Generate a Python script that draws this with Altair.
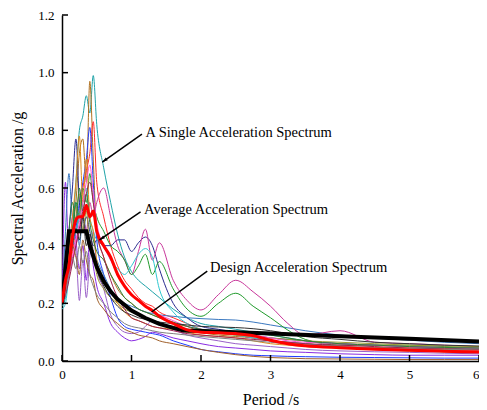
import altair as alt
import pandas as pd

periods = [0, 0.05, 0.1, 0.15, 0.2, 0.25, 0.3, 0.35, 0.4, 0.45, 0.5, 0.6, 0.7, 0.8, 0.9, 1.0,
           1.1, 1.2, 1.3, 1.4, 1.6, 1.8, 2.0, 2.25, 2.5, 2.75, 3.0, 3.25, 3.5, 4.0, 4.5, 5.0, 5.5, 6.0]

teal = [0.19,0.22,0.30,0.45,0.62,0.80,0.85,0.92,0.86,0.99,0.82,0.67,0.55,0.44,0.36,0.31,0.28,0.26,0.24,0.22,0.18,0.15,0.13,0.12,0.11,0.10,0.09,0.08,0.07,0.06,0.055,0.05,0.045,0.04]
brown = [0.20,0.25,0.35,0.45,0.55,0.72,0.77,0.62,0.97,0.70,0.45,0.36,0.30,0.25,0.22,0.20,0.18,0.17,0.16,0.15,0.13,0.12,0.10,0.09,0.085,0.08,0.07,0.065,0.06,0.05,0.047,0.045,0.042,0.04]
red_single = [0.20,0.24,0.30,0.38,0.45,0.50,0.60,0.66,0.72,0.83,0.62,0.50,0.40,0.33,0.28,0.25,0.22,0.20,0.19,0.17,0.15,0.13,0.11,0.10,0.09,0.08,0.07,0.065,0.06,0.05,0.045,0.04,0.037,0.035]
blue = [0.20,0.25,0.32,0.40,0.46,0.55,0.62,0.70,0.81,0.62,0.42,0.30,0.22,0.15,0.12,0.11,0.105,0.10,0.095,0.09,0.07,0.055,0.04,0.032,0.025,0.02,0.018,0.016,0.015,0.013,0.012,0.011,0.01,0.01]
violet = [0.20,0.62,0.35,0.50,0.42,0.32,0.40,0.28,0.42,0.33,0.26,0.20,0.13,0.10,0.08,0.07,0.075,0.085,0.10,0.095,0.08,0.07,0.06,0.05,0.045,0.04,0.035,0.032,0.03,0.025,0.022,0.02,0.02,0.02]
purple = [0.20,0.30,0.36,0.42,0.38,0.21,0.35,0.22,0.36,0.45,0.32,0.25,0.16,0.12,0.10,0.095,0.10,0.12,0.14,0.13,0.11,0.09,0.08,0.07,0.06,0.055,0.05,0.045,0.04,0.035,0.032,0.03,0.027,0.025]
navy = [0.20,0.30,0.45,0.60,0.77,0.55,0.45,0.50,0.45,0.40,0.42,0.40,0.40,0.42,0.42,0.38,0.41,0.43,0.40,0.32,0.20,0.15,0.12,0.11,0.10,0.09,0.08,0.075,0.07,0.06,0.055,0.05,0.047,0.045]
steel = [0.20,0.45,0.65,0.50,0.55,0.40,0.50,0.45,0.40,0.38,0.35,0.30,0.25,0.22,0.20,0.19,0.18,0.17,0.165,0.16,0.155,0.15,0.147,0.144,0.142,0.135,0.125,0.115,0.105,0.09,0.08,0.072,0.065,0.06]
magenta = [0.20,0.25,0.30,0.35,0.40,0.45,0.50,0.45,0.55,0.50,0.55,0.60,0.50,0.40,0.35,0.30,0.38,0.457,0.35,0.41,0.28,0.21,0.177,0.23,0.28,0.24,0.19,0.13,0.09,0.105,0.065,0.06,0.055,0.05]
green = [0.20,0.28,0.40,0.45,0.55,0.50,0.60,0.55,0.65,0.55,0.50,0.45,0.40,0.38,0.35,0.30,0.33,0.37,0.30,0.345,0.25,0.18,0.155,0.20,0.235,0.19,0.15,0.107,0.075,0.055,0.055,0.055,0.05,0.045]
cyan = [0.18,0.20,0.30,0.40,0.45,0.50,0.55,0.60,0.50,0.45,0.42,0.40,0.35,0.32,0.30,0.33,0.37,0.39,0.36,0.25,0.17,0.13,0.11,0.10,0.09,0.08,0.07,0.065,0.06,0.05,0.04,0.035,0.032,0.03]
olive = [0.20,0.26,0.35,0.42,0.50,0.58,0.45,0.52,0.40,0.38,0.30,0.25,0.22,0.20,0.18,0.17,0.16,0.15,0.14,0.13,0.12,0.11,0.10,0.095,0.09,0.085,0.08,0.075,0.07,0.065,0.06,0.055,0.052,0.05]
orange = [0.20,0.27,0.38,0.50,0.62,0.78,0.55,0.70,0.50,0.45,0.35,0.28,0.24,0.20,0.17,0.15,0.14,0.13,0.12,0.115,0.11,0.10,0.09,0.085,0.08,0.07,0.06,0.055,0.05,0.045,0.04,0.035,0.032,0.03]
pink = [0.20,0.24,0.30,0.36,0.42,0.48,0.55,0.62,0.68,0.58,0.48,0.40,0.35,0.30,0.26,0.23,0.21,0.19,0.17,0.16,0.14,0.12,0.11,0.10,0.095,0.09,0.08,0.07,0.065,0.06,0.055,0.05,0.047,0.045]
darkgreen = [0.20,0.30,0.45,0.55,0.48,0.60,0.52,0.58,0.48,0.42,0.38,0.35,0.30,0.26,0.22,0.20,0.18,0.17,0.16,0.15,0.135,0.12,0.11,0.105,0.10,0.095,0.09,0.08,0.07,0.06,0.055,0.05,0.047,0.045]
dark = [0.20,0.26,0.34,0.40,0.46,0.42,0.50,0.40,0.44,0.38,0.32,0.26,0.22,0.19,0.17,0.16,0.15,0.145,0.14,0.135,0.13,0.125,0.12,0.118,0.116,0.112,0.105,0.095,0.085,0.075,0.065,0.06,0.055,0.052]
wine = [0.20,0.23,0.28,0.34,0.40,0.46,0.52,0.58,0.62,0.55,0.45,0.36,0.28,0.22,0.18,0.15,0.14,0.13,0.12,0.115,0.105,0.095,0.09,0.085,0.08,0.075,0.07,0.065,0.06,0.055,0.05,0.045,0.042,0.04]
brown2 = [0.20,0.25,0.33,0.40,0.36,0.30,0.42,0.35,0.30,0.28,0.22,0.18,0.15,0.13,0.11,0.10,0.09,0.085,0.08,0.07,0.06,0.05,0.04,0.03,0.022,0.016,0.012,0.01,0.008,0.007,0.006,0.005,0.005,0.005]
gray = [0.20,0.24,0.30,0.36,0.32,0.40,0.34,0.38,0.30,0.26,0.23,0.20,0.17,0.15,0.13,0.12,0.115,0.11,0.105,0.10,0.095,0.09,0.085,0.08,0.075,0.07,0.065,0.06,0.055,0.05,0.045,0.042,0.04,0.038]

average = [0.20,0.28,0.33,0.43,0.49,0.50,0.50,0.54,0.50,0.52,0.45,0.40,0.36,0.30,0.26,0.23,0.21,0.19,0.175,0.155,0.13,0.108,0.10,0.098,0.095,0.088,0.072,0.06,0.053,0.046,0.041,0.037,0.034,0.031]

design_periods = [0, 0.1, 0.35, 0.4, 0.5, 0.6, 0.7, 0.8, 1.0, 1.2, 1.4, 1.6, 1.75, 2.0, 3.0, 4.0, 5.0, 6.0]
design = [0.2, 0.45, 0.45, 0.40, 0.326, 0.277, 0.241, 0.214, 0.175, 0.149, 0.129, 0.115, 0.106, 0.104, 0.095, 0.086, 0.077, 0.068]

singles = {
    "teal": (teal, "#1fa3a8"), "brown": (brown, "#b0701e"), "red": (red_single, "#ff2a2a"),
    "blue": (blue, "#1f3cff"), "violet": (violet, "#8a2be2"), "purple": (purple, "#9a60c8"),
    "navy": (navy, "#2a2a90"), "steel": (steel, "#3a78c0"), "magenta": (magenta, "#c8369a"),
    "green": (green, "#1e9a2a"), "cyan": (cyan, "#30c8d0"), "olive": (olive, "#9a9a30"),
    "orange": (orange, "#e08a1a"), "pink": (pink, "#ff50d0"), "darkgreen": (darkgreen, "#2e7d32"),
    "dark": (dark, "#303030"), "wine": (wine, "#a02050"), "brown2": (brown2, "#a0602a"),
    "gray": (gray, "#808080"),
}

rows = []
for name, (vals, _) in singles.items():
    for t, v in zip(periods, vals):
        rows.append({"T": t, "Sa": v, "s": name})
df_single = pd.DataFrame(rows)
df_avg = pd.DataFrame({"T": periods, "Sa": average})
df_design = pd.DataFrame({"T": design_periods, "Sa": design})

W, H = 417, 346
FONT = "Liberation Serif"

xs = alt.Scale(domain=[0, 6], nice=False)
ys = alt.Scale(domain=[0, 1.2], nice=False)

xaxis = alt.Axis(values=[0, 1, 2, 3, 4, 5, 6], format="d", ticks=False, grid=False,
                 labelPadding=7, titlePadding=10, domainColor="black", domainWidth=1.5,
                 labelAlign={"expr": "datum.value == 6 ? 'right' : 'center'"})
yaxis = alt.Axis(values=[0, 0.2, 0.4, 0.6, 0.8, 1.0, 1.2], format=".1f", ticks=False, grid=False,
                 labelPadding=8, titlePadding=12, domainColor="black", domainWidth=1.5)

lines = alt.Chart(df_single).mark_line(strokeWidth=1, interpolate="monotone", clip=True).encode(
    x=alt.X("T:Q", scale=xs, axis=xaxis, title="Period /s"),
    y=alt.Y("Sa:Q", scale=ys, axis=yaxis, title="Spectral Acceleration /g"),
    color=alt.Color("s:N", scale=alt.Scale(domain=list(singles.keys()),
                                            range=[c for _, c in singles.values()]), legend=None),
)

design_line = alt.Chart(df_design).mark_line(color="black", strokeWidth=4, clip=True).encode(
    x=alt.X("T:Q", scale=xs), y=alt.Y("Sa:Q", scale=ys))

avg_line = alt.Chart(df_avg).mark_line(color="#ff0000", strokeWidth=3, interpolate="monotone", clip=True).encode(
    x=alt.X("T:Q", scale=xs), y=alt.Y("Sa:Q", scale=ys))

# inner ticks
xt = pd.DataFrame({"v": [0, 1, 2, 3, 4, 5, 6]})
yt = pd.DataFrame({"v": [0, 0.2, 0.4, 0.6, 0.8, 1.0, 1.2]})
xticks = alt.Chart(xt).mark_rule(color="black", strokeWidth=1.5).encode(
    x=alt.X("v:Q", scale=xs), y=alt.value(H), y2=alt.value(H - 6))
yticks = alt.Chart(yt).mark_rule(color="black", strokeWidth=1.5).encode(
    y=alt.Y("v:Q", scale=ys), x=alt.value(0), x2=alt.value(6))

# annotations
ann_text = pd.DataFrame({
    "T": [1.2, 1.18, 2.13],
    "Sa": [0.79, 0.524, 0.323],
    "label": ["A Single Acceleration Spectrum", "Average Acceleration Spectrum", "Design Acceleration Spectrum"],
})
ann_lines = pd.DataFrame({
    "T": [1.15, 1.13, 2.09], "Sa": [0.787, 0.517, 0.312],
    "T2": [0.58, 0.54, 1.29], "Sa2": [0.69, 0.42, 0.17],
})
heads = pd.DataFrame({"T": [0.58, 0.54], "Sa": [0.69, 0.42], "ang": [235, 236]})

texts = alt.Chart(ann_text).mark_text(align="left", baseline="middle", font=FONT, fontSize=14.5,
                                      color="black").encode(
    x=alt.X("T:Q", scale=xs), y=alt.Y("Sa:Q", scale=ys), text="label:N")
arrows = alt.Chart(ann_lines).mark_rule(color="black", strokeWidth=1.5).encode(
    x=alt.X("T:Q", scale=xs), y=alt.Y("Sa:Q", scale=ys), x2="T2:Q", y2="Sa2:Q")
arrowheads = alt.Chart(heads).mark_point(shape="M0,0L-0.4,1.3L0.4,1.3Z", filled=True, color="black",
                                         size=70, opacity=1).encode(
    x=alt.X("T:Q", scale=xs), y=alt.Y("Sa:Q", scale=ys), angle=alt.Angle("ang:Q", scale=None))

chart = alt.layer(lines, design_line, avg_line, xticks, yticks, arrows, arrowheads, texts).properties(
    width=W, height=H,
    background="white",
    autosize=alt.AutoSizeParams(type="none"),
    padding={"left": 54, "top": 7, "right": 0, "bottom": 45},
).configure_view(stroke=None).configure_axis(
    labelFont=FONT, labelFontSize=13, labelColor="black",
    titleFont=FONT, titleFontSize=16, titleFontWeight="normal", titleColor="black",
)

chart.save("out.html", embed_options={"renderer": "svg", "actions": False})
